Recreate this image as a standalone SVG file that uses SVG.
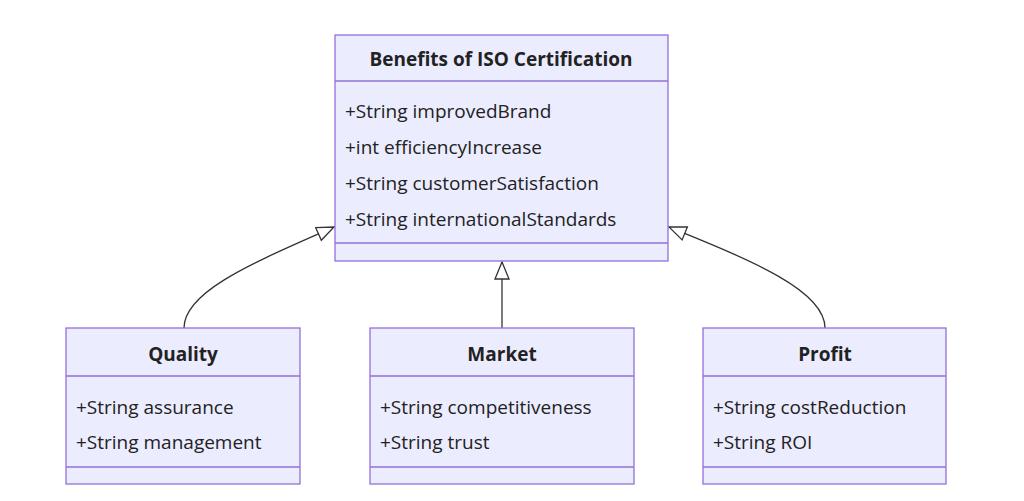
<svg xmlns="http://www.w3.org/2000/svg" width="1024" height="501" viewBox="0 0 1024 501">
<style>
.box{fill:#ECECFF;stroke:#9370DB;stroke-width:1.3}
.ln{stroke:#9370DB;stroke-width:1.3}
text{font-family:"Open Sans","DejaVu Sans",sans-serif;font-size:19px;fill:#222}
.t{font-weight:bold;text-anchor:middle}
.c{fill:none;stroke:#333;stroke-width:1.3}
</style>
<defs><marker id="tri" markerWidth="20" markerHeight="20" refX="18" refY="8" orient="auto" markerUnits="userSpaceOnUse"><path d="M1,1 L18,8 L1,15 Z" fill="#fff" stroke="#333" stroke-width="1.3"/></marker></defs>
<rect width="1024" height="501" fill="#fff"/>
<g id="connectors">
<path class="c" d="M184,328 C184,290 260,260 334,227" marker-end="url(#tri)"/>
<path class="c" d="M502,328 L502,262" marker-end="url(#tri)"/>
<path class="c" d="M825,328 C825,290 750,260 669,227" marker-end="url(#tri)"/>
</g>
<g id="benefits">
<rect class="box" x="335" y="35" width="333" height="226"/>
<line class="ln" x1="335" y1="81" x2="668" y2="81"/><line class="ln" x1="335" y1="243" x2="668" y2="243"/>
<text class="t" x="501" y="66">Benefits of ISO Certification</text>
<text x="345" y="118">+String improvedBrand</text>
<text x="345" y="154">+int efficiencyIncrease</text>
<text x="345" y="190">+String customerSatisfaction</text>
<text x="345" y="226">+String internationalStandards</text>
</g>
<g id="quality">
<rect class="box" x="66" y="328" width="234" height="156"/>
<line class="ln" x1="66" y1="376" x2="300" y2="376"/><line class="ln" x1="66" y1="467" x2="300" y2="467"/>
<text class="t" x="183" y="361">Quality</text>
<text x="76" y="414">+String assurance</text>
<text x="76" y="449">+String management</text>
</g>
<g id="market">
<rect class="box" x="370" y="328" width="264" height="156"/>
<line class="ln" x1="370" y1="376" x2="634" y2="376"/><line class="ln" x1="370" y1="467" x2="634" y2="467"/>
<text class="t" x="502" y="361">Market</text>
<text x="380" y="414">+String competitiveness</text>
<text x="380" y="449">+String trust</text>
</g>
<g id="profit">
<rect class="box" x="703" y="328" width="243" height="156"/>
<line class="ln" x1="703" y1="376" x2="946" y2="376"/><line class="ln" x1="703" y1="467" x2="946" y2="467"/>
<text class="t" x="825" y="361">Profit</text>
<text x="713" y="414">+String costReduction</text>
<text x="713" y="449">+String ROI</text>
</g>
</svg>
